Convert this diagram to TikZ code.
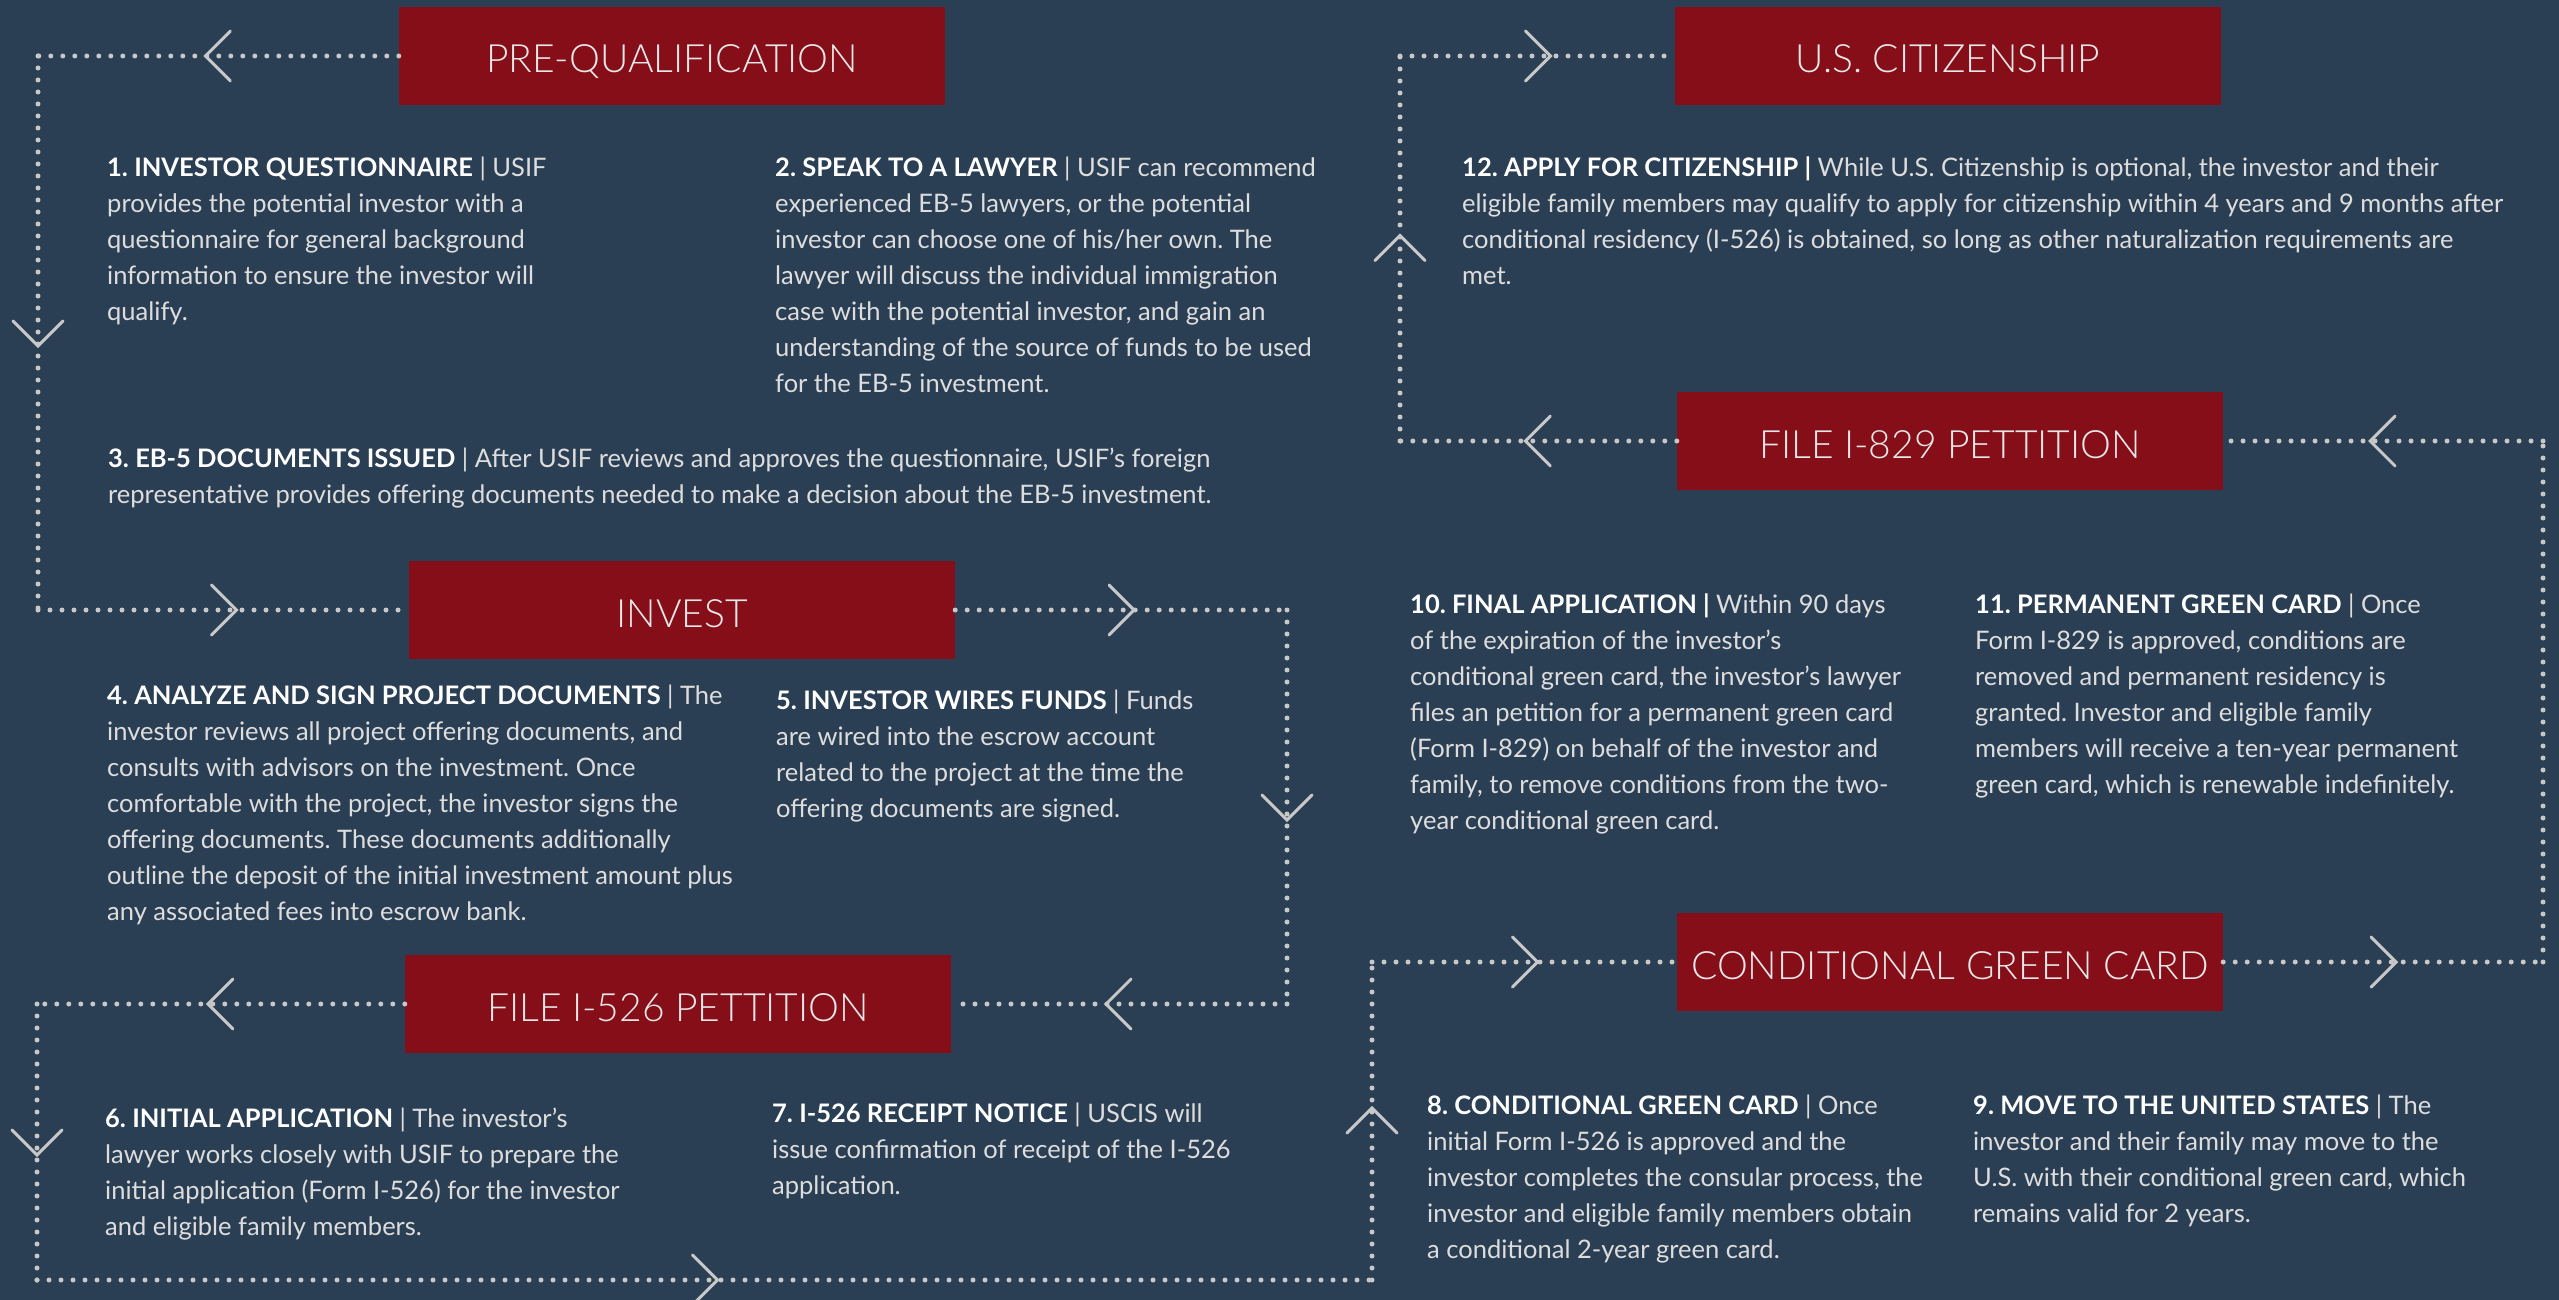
\documentclass[tikz,border=0pt]{standalone}
\usepackage{fontspec}
\setmainfont{Lato}
\newfontfamily\lightfont{Lato Light}
\usetikzlibrary{decorations.markings}
\definecolor{bg}{HTML}{2B3F54}
\definecolor{boxred}{HTML}{850E19}
\definecolor{dotgray}{HTML}{C8C8C8}
\definecolor{bodygray}{HTML}{DDDDDD}
\definecolor{titlegray}{HTML}{E8E8E8}
\newcommand{\head}[1]{\textcolor{white}{\bfseries #1}}
\tikzset{
  stage/.style={fill=boxred, text=titlegray, minimum width=546pt, minimum height=98pt,
    inner sep=0pt, text height=34pt, text depth=0pt, font=\lightfont\fontsize{39}{39}\selectfont},
  txt/.style={anchor=north west, inner sep=0pt, align=left, text=bodygray,
    font=\frenchspacing\fontsize{25.5}{36}\selectfont},
  dots/.style={draw=dotgray, line width=5pt, line cap=round, dash pattern=on 0pt off 12pt},
  flow/.style={dots, postaction={decorate, decoration={markings, mark=at position 0.5 with
    {\draw[draw=dotgray, solid, line width=3pt] (-12pt,25pt) -- (13pt,0pt) -- (-12pt,-25pt);}}}}
}
\begin{document}
\begin{tikzpicture}[x=1pt, y=-1pt]
  \fill[bg] (0,0) rectangle (2559,1300);
  \useasboundingbox (0,0) rectangle (2559,1300);

  \node[stage] (pq) at (672,56) {PRE-QUALIFICATION};
  \node[stage] (inv) at (682,610) {INVEST};
  \node[stage] (i526) at (678,1004) {FILE I-526 PETTITION};
  \node[stage] (cgc) at (1950,962) {CONDITIONAL GREEN CARD};
  \node[stage] (i829) at (1950,441) {FILE I-829 PETTITION};
  \node[stage] (cit) at (1948,56) {U.S. CITIZENSHIP};

  \coordinate (c1a) at (38,56);
  \coordinate (c1b) at (38,610);
  \coordinate (c2a) at (1287,610);
  \coordinate (c2b) at (1287,1004);
  \coordinate (c3a) at (37,1004);
  \coordinate (c3b) at (37,1280);
  \coordinate (c3c) at (1372,1280);
  \coordinate (c3d) at (1372,962);
  \coordinate (c4a) at (2543,962);
  \coordinate (c4b) at (2543,441);
  \coordinate (c5a) at (1400,441);
  \coordinate (c5b) at (1400,56);

  \draw[flow] (pq) to (c1a);
  \draw[flow] (c1a) to (c1b);
  \draw[flow] (c1b) to (inv);
  \draw[flow] (inv) to (c2a);
  \draw[flow] (c2a) to (c2b);
  \draw[flow] (c2b) to (i526);
  \draw[flow] (i526) to (c3a);
  \draw[flow] (c3a) to (c3b);
  \draw[flow] (c3b) to (c3c);
  \draw[flow] (c3c) to (c3d);
  \draw[flow] (c3d) to (cgc);
  \draw[flow] (cgc) to (c4a);
  \draw[dots] (c4a) to (c4b);
  \draw[flow] (c4b) to (i829);
  \draw[flow] (i829) to (c5a);
  \draw[flow] (c5a) to (c5b);
  \draw[flow] (c5b) to (cit);

  \node[txt] (t1) at (107,156.5) {\head{1. INVESTOR QUESTIONNAIRE} | USIF\\
    provides the potential investor with a\\
    questionnaire for general background\\
    information to ensure the investor will\\
    qualify.};
  \node[txt] (t2) at (775,156.5) {\head{2. SPEAK TO A LAWYER} | USIF can recommend\\
    experienced EB-5 lawyers, or the potential\\
    investor can choose one of his/her own. The\\
    lawyer will discuss the individual immigration\\
    case with the potential investor, and gain an\\
    understanding of the source of funds to be used\\
    for the EB-5 investment.};
  \node[txt] (t3) at (108,447.5) {\head{3. EB-5 DOCUMENTS ISSUED} | After USIF reviews and approves the questionnaire, USIF’s foreign\\
    representative provides offering documents needed to make a decision about the EB-5 investment.};
  \node[txt] (t4) at (107,684.5) {\head{4. ANALYZE AND SIGN PROJECT DOCUMENTS} | The\\
    investor reviews all project offering documents, and\\
    consults with advisors on the investment. Once\\
    comfortable with the project, the investor signs the\\
    offering documents. These documents additionally\\
    outline the deposit of the initial investment amount plus\\
    any associated fees into escrow bank.};
  \node[txt] (t5) at (776,689.5) {\head{5. INVESTOR WIRES FUNDS} | Funds\\
    are wired into the escrow account\\
    related to the project at the time the\\
    offering documents are signed.};
  \node[txt] (t6) at (105,1107.5) {\head{6. INITIAL APPLICATION} | The investor’s\\
    lawyer works closely with USIF to prepare the\\
    initial application (Form I-526) for the investor\\
    and eligible family members.};
  \node[txt] (t7) at (772,1102.5) {\head{7. I-526 RECEIPT NOTICE} | USCIS will\\
    issue confirmation of receipt of the I-526\\
    application.};
  \node[txt] (t8) at (1427,1094.5) {\head{8. CONDITIONAL GREEN CARD} | Once\\
    initial Form I-526 is approved and the\\
    investor completes the consular process, the\\
    investor and eligible family members obtain\\
    a conditional 2-year green card.};
  \node[txt] (t9) at (1973,1094.5) {\head{9. MOVE TO THE UNITED STATES} | The\\
    investor and their family may move to the\\
    U.S. with their conditional green card, which\\
    remains valid for 2 years.};
  \node[txt] (t10) at (1410,593.5) {\head{10. FINAL APPLICATION |} Within 90 days\\
    of the expiration of the investor’s\\
    conditional green card, the investor’s lawyer\\
    files an petition for a permanent green card\\
    (Form I-829) on behalf of the investor and\\
    family, to remove conditions from the two-\\
    year conditional green card.};
  \node[txt] (t11) at (1975,593.5) {\head{11. PERMANENT GREEN CARD} | Once\\
    Form I-829 is approved, conditions are\\
    removed and permanent residency is\\
    granted. Investor and eligible family\\
    members will receive a ten-year permanent\\
    green card, which is renewable indefinitely.};
  \node[txt] (t12) at (1462,156.5) {\head{12. APPLY FOR CITIZENSHIP |} While U.S. Citizenship is optional, the investor and their\\
    eligible family members may qualify to apply for citizenship within 4 years and 9 months after\\
    conditional residency (I-526) is obtained, so long as other naturalization requirements are\\
    met.};
\end{tikzpicture}
\end{document}
